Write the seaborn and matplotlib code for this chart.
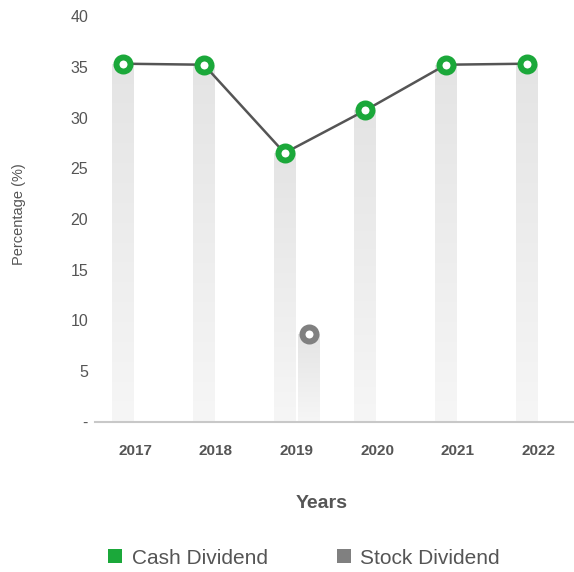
import numpy as np
import pandas as pd
import matplotlib
matplotlib.use("Agg")
import matplotlib.pyplot as plt
from matplotlib.patches import Patch
import seaborn as sns

years = ["2017", "2018", "2019", "2020", "2021", "2022"]
cash_dividend = [35.3, 35.2, 26.5, 30.7, 35.2, 35.3]
stock_dividend = [np.nan, np.nan, 8.7, np.nan, np.nan, np.nan]
series_names = ["Cash Dividend", "Stock Dividend"]
series_colors = ["#1ba83a", "#808080"]
ytick_values = [0, 5, 10, 15, 20, 25, 30, 35, 40]
ytick_labels = ["-", "5", "10", "15", "20", "25", "30", "35", "40"]

sns.set_theme(style="white")
plt.rcParams["font.family"] = ["Liberation Sans", "DejaVu Sans"]

df = pd.DataFrame({
    "Year": years * 2,
    "Series": [series_names[0]] * len(years) + [series_names[1]] * len(years),
    "Value": cash_dividend + stock_dividend,
})

fig = plt.figure(figsize=(5.74, 5.72), dpi=100)
ax = fig.add_axes([95 / 574, 1 - 422 / 572, 484 / 574, (422 - 16) / 572])

sns.barplot(data=df, x="Year", y="Value", hue="Series", hue_order=series_names,
            palette=["#ebebeb", "#ebebeb"], width=0.6, gap=0.1, ax=ax,
            legend=False, errorbar=None, saturation=1)

# gradient fill on bars
grad = np.linspace(0, 1, 256).reshape(-1, 1)
cmap = matplotlib.colors.LinearSegmentedColormap.from_list("g", ["#f6f6f6", "#e4e4e4"])
centers = []
for cont in ax.containers:
    xs, hs = [], []
    for p in cont.patches:
        h = p.get_height()
        x0 = p.get_x()
        w = p.get_width()
        xs.append(x0 + w / 2)
        hs.append(h)
        if not np.isfinite(h) or h <= 0:
            continue
        im = ax.imshow(grad, extent=[x0, x0 + w, 0, h], origin="lower", cmap=cmap,
                       aspect="auto", zorder=1, interpolation="bicubic")
        im.set_clip_path(p)
        p.set_facecolor("none")
        p.set_edgecolor("none")
    centers.append((np.array(xs), np.array(hs)))
ax.set_xlim(-0.5, len(years) - 0.5)
ax.set_ylim(0, 40)

# cash line with markers
cx, ch = centers[0]
ax.plot(cx, ch, color="#555555", lw=1.8, zorder=3)
ax.plot(cx, ch, ls="none", marker="o", ms=10.1, mew=4.3,
        mfc="white", mec=series_colors[0], zorder=4)
sx, sh = centers[1]
ax.plot(sx, sh, ls="none", marker="o", ms=10.1, mew=4.3,
        mfc="white", mec=series_colors[1], zorder=4)

ax.set_yticks(ytick_values)
ax.set_yticklabels(ytick_labels)
ax.tick_params(axis="y", labelsize=11.5, labelcolor="#555555", length=0, pad=5)
ax.tick_params(axis="x", labelsize=11, labelcolor="#555555", length=0, pad=16)
for t in ax.get_xticklabels():
    t.set_fontweight("bold")

for s in ["top", "right", "left"]:
    ax.spines[s].set_visible(False)
ax.spines["bottom"].set_color("#c8c8c8")
ax.spines["bottom"].set_linewidth(1.5)

ax.set_xlabel("")
ax.set_ylabel("")
fig.text(19 / 574, 1 - 214 / 572, "Percentage (%)", rotation=90, ha="center",
         va="center", fontsize=10.5, color="#555555")
fig.text(322 / 574, 1 - 503 / 572, "Years", ha="center", va="center",
         fontsize=14, fontweight="bold", color="#555555")

handles = [Patch(facecolor=c, edgecolor="none") for c in series_colors]
fig.legend(handles, series_names, loc="center", bbox_to_anchor=(304 / 574, 1 - 558 / 572),
           ncol=2, frameon=False, fontsize=15, handlelength=0.68, handleheight=0.68,
           handletextpad=0.45, columnspacing=3.3, labelcolor="#555555")

fig.savefig("out.png", dpi=100)
